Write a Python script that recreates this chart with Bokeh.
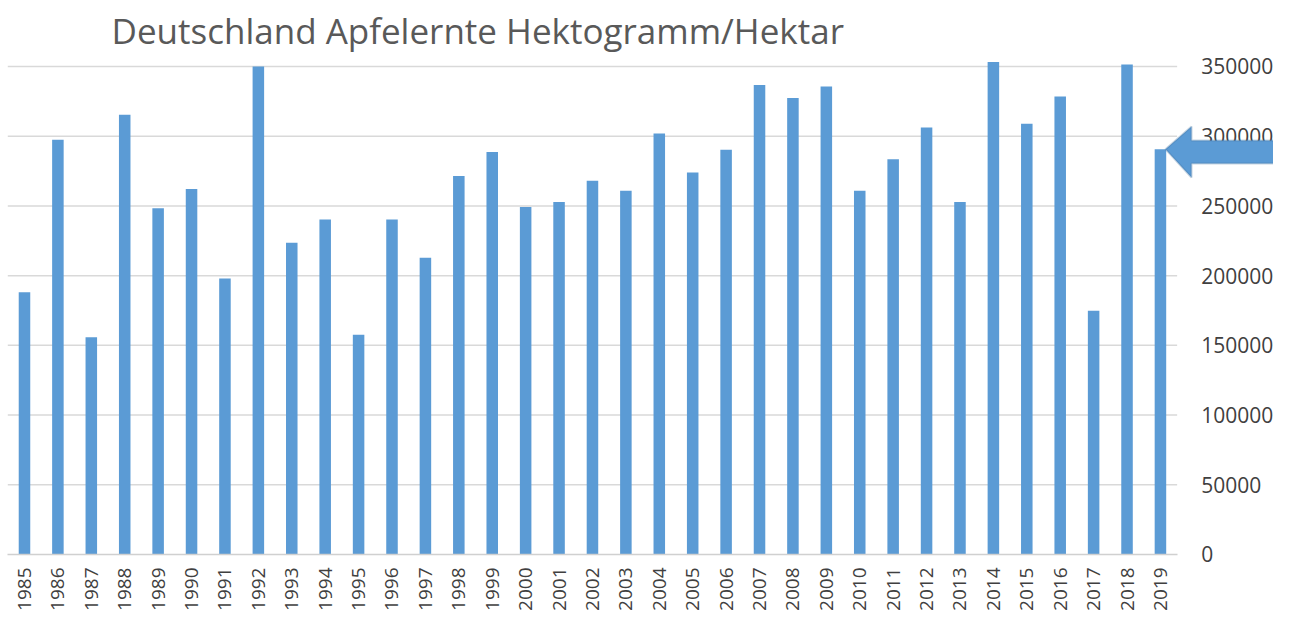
import math
from bokeh.plotting import figure
from bokeh.models import (Range1d, FixedTicker, NumeralTickFormatter, PolyAnnotation,
                          CustomJSTickFormatter, Label)
from bokeh.embed import file_html
from bokeh.resources import INLINE

years = ["1985", "1986", "1987", "1988", "1989", "1990", "1991", "1992", "1993",
         "1994", "1995", "1996", "1997", "1998", "1999", "2000", "2001", "2002",
         "2003", "2004", "2005", "2006", "2007", "2008", "2009", "2010", "2011",
         "2012", "2013", "2014", "2015", "2016", "2017", "2018", "2019"]
yields = [188000, 297500, 155900, 315400, 248400, 262100, 198000, 350000, 223600,
          240300, 157600, 240300, 212800, 271400, 288600, 249200, 252800, 268100,
          260900, 302000, 274000, 290300, 336700, 327400, 335700, 260900, 283400,
          306300, 252800, 353200, 308900, 328500, 174800, 351500, 290700]
y_ticks = [0, 50000, 100000, 150000, 200000, 250000, 300000, 350000]
title_text = "Deutschland Apfelernte Hektogramm/Hektar"

FONT = "Open Sans"
TEXT = "#404040"
GRID = "#d9d9d9"

n = len(years)
xpos = [i + 0.5 for i in range(n)]   # category centres

p = figure(width=1273, height=612,
           x_range=Range1d(-0.218, 37.884), y_range=Range1d(-41600, 397330),
           y_axis_location="right", output_backend="svg", toolbar_location=None,
           min_border_left=0, min_border_right=0, min_border_top=0, min_border_bottom=0)
p.title.visible = False
p.outline_line_color = None
p.background_fill_color = "white"
p.border_fill_color = "white"
p.xgrid.visible = False
p.ygrid.visible = False

# horizontal gridlines, limited to the category area
p.segment(x0=0, x1=n, y0=y_ticks[1:], y1=y_ticks[1:], line_color=GRID, line_width=1.5)

# bars
p.vbar(x=xpos, top=yields, width=0.345, color="#5B9BD5", line_color=None)

# title
p.add_layout(Label(x=3.104, y=375800, text=title_text, text_font=FONT,
                   text_font_size="35px", text_color="#595959",
                   text_align="left", text_baseline="alphabetic"))

# y axis (right side, drawn at end of categories)
yax = p.yaxis[0]
yax.fixed_location = n
yax.ticker = FixedTicker(ticks=y_ticks)
yax.formatter = NumeralTickFormatter(format="0")
yax.axis_line_color = None
yax.major_tick_line_color = None
yax.minor_tick_line_color = None
yax.major_label_standoff = 18
yax.major_label_text_font = FONT
yax.major_label_text_font_size = "21px"
yax.major_label_text_color = TEXT

# x axis (category labels, vertical, reading upwards)
xax = p.xaxis[0]
xax.fixed_location = 0
xax.bounds = (0, n)
xax.ticker = FixedTicker(ticks=xpos)
xax.formatter = CustomJSTickFormatter(args=dict(labels=years),
                                      code="const i = Math.round(tick - 0.5); return labels[i] ?? '';")
xax.axis_line_color = "#d0d0d0"
xax.axis_line_width = 1.5
xax.major_tick_line_color = None
xax.minor_tick_line_color = None
xax.major_label_orientation = math.pi / 2
xax.major_label_standoff = 7
xax.major_label_text_font = FONT
xax.major_label_text_font_size = "19px"
xax.major_label_text_color = TEXT

# arrow pointing at the last bar
tip = yields[-1]
arrow = PolyAnnotation(
    xs=[34.65, 35.43, 35.43, 38.6, 38.6, 35.43, 35.43],
    ys=[tip, tip + 16300, tip + 6300, tip + 6300, tip - 10200, tip - 10200, tip - 20300],
    fill_color="#5B9BD5", fill_alpha=1.0, line_color="#41719C", line_width=2,
    level="overlay")
p.add_layout(arrow)

open("out.html", "w").write(file_html(p, INLINE))
